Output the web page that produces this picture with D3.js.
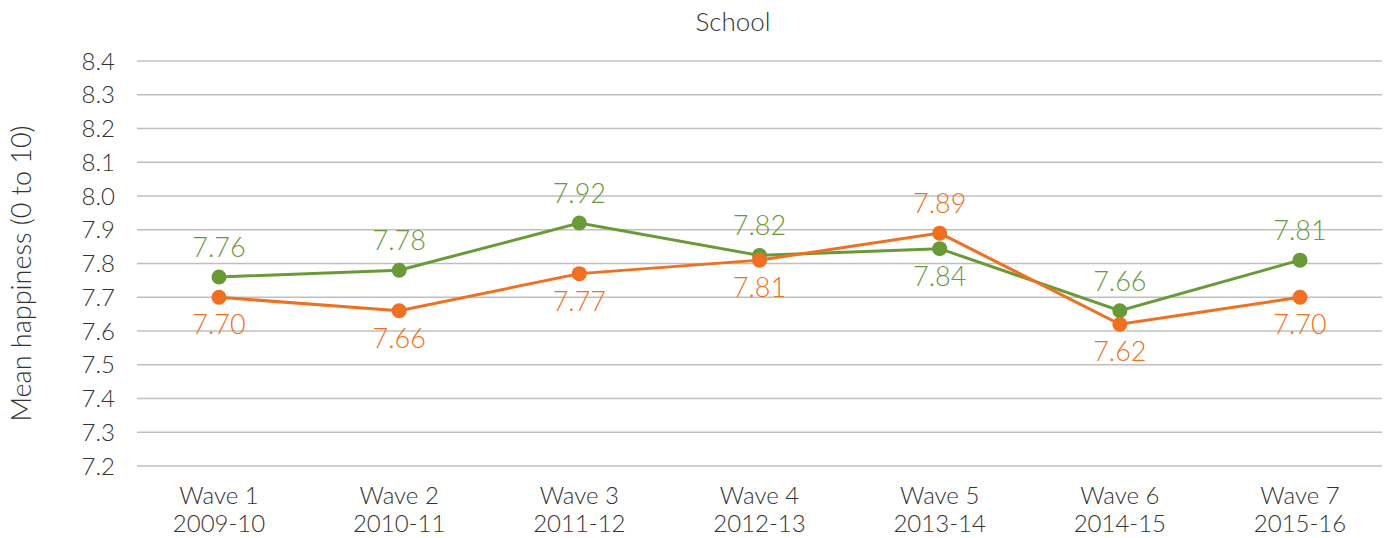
<!DOCTYPE html>
<html>
<head>
<meta charset="utf-8">
<script src="https://cdn.jsdelivr.net/npm/d3@7"></script>
<style>
  body { margin: 0; background: #fff; }
  svg text { font-family: Lato, "Open Sans", sans-serif; font-weight: 300; }
</style>
</head>
<body>
<div id="chart"></div>
<script>
// ---------- Data ----------
const waves = ["Wave 1", "Wave 2", "Wave 3", "Wave 4", "Wave 5", "Wave 6", "Wave 7"];
const years = ["2009-10", "2010-11", "2011-12", "2012-13", "2013-14", "2014-15", "2015-16"];
const greenValues  = [7.76, 7.78, 7.92, 7.824, 7.844, 7.66, 7.81];
const orangeValues = [7.70, 7.66, 7.77, 7.81, 7.89, 7.62, 7.70];
// label above (-1) or below (+1) the point
const greenSide  = [-1, -1, -1, -1, 1, -1, -1];
const orangeSide = [1, 1, 1, 1, -1, 1, 1];
const yTicks = [7.2, 7.3, 7.4, 7.5, 7.6, 7.7, 7.8, 7.9, 8.0, 8.1, 8.2, 8.3, 8.4];

// ---------- Layout ----------
const width = 1389, height = 538;
const plot = { left: 137, right: 1382, top: 61, bottom: 466 };
const textColor = "#333";

const svg = d3.select("#chart").append("svg")
  .attr("width", width)
  .attr("height", height);

const x = d3.scalePoint()
  .domain(waves)
  .range([219, 1300]);

const y = d3.scaleLinear()
  .domain([7.2, 8.4])
  .range([plot.bottom, plot.top]);

// ---------- Grid ----------
svg.append("g")
  .selectAll("line")
  .data(yTicks)
  .join("line")
  .attr("x1", plot.left)
  .attr("x2", plot.right)
  .attr("y1", d => y(d))
  .attr("y2", d => y(d))
  .attr("stroke", "#bfbfbf")
  .attr("stroke-width", 1.5);

// ---------- Y axis ----------
svg.append("g")
  .selectAll("text")
  .data(yTicks)
  .join("text")
  .attr("x", 115)
  .attr("y", d => y(d))
  .attr("dy", "0.36em")
  .attr("text-anchor", "end")
  .attr("font-size", 24)
  .attr("fill", textColor)
  .text(d => d.toFixed(1));

svg.append("text")
  .attr("transform", `translate(31,${(plot.top + plot.bottom) / 2 + 10}) rotate(-90)`)
  .attr("text-anchor", "middle")
  .attr("font-size", 27)
  .attr("fill", textColor)
  .text("Mean happiness (0 to 10)");

// ---------- X axis ----------
const xLabels = svg.append("g")
  .selectAll("text")
  .data(waves)
  .join("text")
  .attr("x", d => x(d))
  .attr("text-anchor", "middle")
  .attr("font-size", 24)
  .attr("fill", textColor);

xLabels.append("tspan")
  .attr("x", d => x(d))
  .attr("y", 504)
  .text(d => d);
xLabels.append("tspan")
  .attr("x", d => x(d))
  .attr("y", 532)
  .text((d, i) => years[i]);

// ---------- Title ----------
svg.append("text")
  .attr("x", 733)
  .attr("y", 31)
  .attr("text-anchor", "middle")
  .attr("font-size", 26)
  .attr("fill", textColor)
  .text("School");

// ---------- Series ----------
const line = d3.line()
  .x((d, i) => x(waves[i]))
  .y(d => y(d));

function drawSeries(values, sides, color) {
  const g = svg.append("g");
  g.append("path")
    .datum(values)
    .attr("d", line)
    .attr("fill", "none")
    .attr("stroke", color)
    .attr("stroke-width", 3);
  g.selectAll("circle")
    .data(values)
    .join("circle")
    .attr("cx", (d, i) => x(waves[i]))
    .attr("cy", d => y(d))
    .attr("r", 7.5)
    .attr("fill", color);
  g.selectAll("text")
    .data(values)
    .join("text")
    .attr("x", (d, i) => x(waves[i]))
    .attr("y", (d, i) => y(d) + (sides[i] < 0 ? -20 : 37))
    .attr("text-anchor", "middle")
    .attr("font-size", 27)
    .attr("fill", color)
    .text(d => d.toFixed(2));
}

drawSeries(greenValues, greenSide, "#6a9a37");
drawSeries(orangeValues, orangeSide, "#ef7021");
</script>
</body>
</html>
